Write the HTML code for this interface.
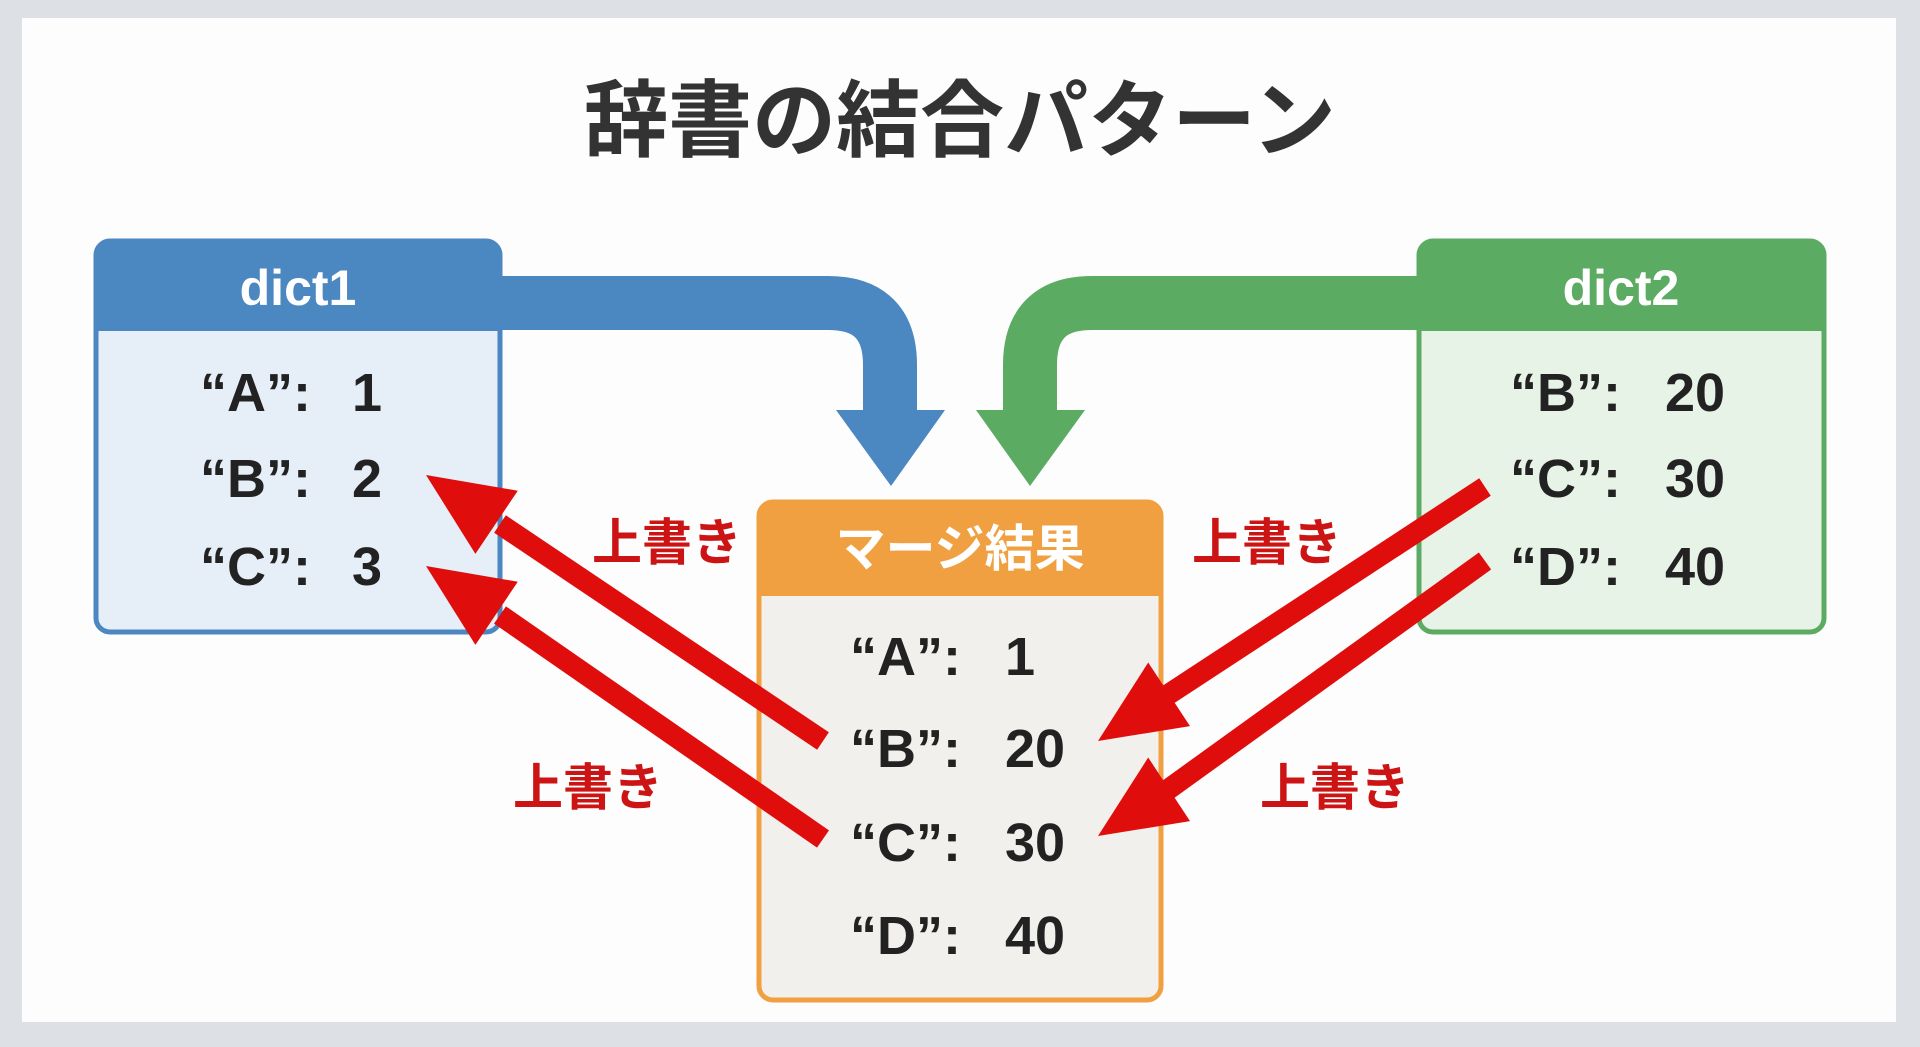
<!DOCTYPE html>
<html><head><meta charset="utf-8"><style>
html,body{margin:0;padding:0;background:#dde1e5;}
svg{display:block;}
text{font-family:"Liberation Sans","Noto Sans CJK JP",sans-serif;font-weight:bold;}
</style></head><body>
<svg width="1920" height="1047" viewBox="0 0 1920 1047" xmlns="http://www.w3.org/2000/svg">
<rect x="0" y="0" width="1920" height="1047" fill="#dde1e5"/>
<rect x="22" y="18" width="1874" height="1004" fill="#fdfdfd"/>
<text x="960" y="150" font-size="84" fill="#333" text-anchor="middle">辞書の結合パターン</text>

<!-- blue flow arrow -->
<path d="M 495 303 H 828 Q 890 303 890 365 V 420" fill="none" stroke="#4b87c0" stroke-width="54"/>
<polygon points="836,410 945,410 891,486" fill="#4b87c0"/>
<!-- green flow arrow -->
<path d="M 1425 303 H 1092 Q 1030 303 1030 365 V 420" fill="none" stroke="#5cab62" stroke-width="54"/>
<polygon points="976,410 1085,410 1030,486" fill="#5cab62"/>

<!-- dict1 -->
<rect x="96" y="241" width="404" height="391" rx="14" fill="#e6eef7" stroke="#4b87c0" stroke-width="5"/>
<path d="M 96 331 V 255 Q 96 241 110 241 H 486 Q 500 241 500 255 V 331 Z" fill="#4b87c0"/>
<text x="298" y="305" font-size="50" fill="#fff" text-anchor="middle">dict1</text>
<g font-size="54" fill="#222">
<text x="200" y="411">“A”:</text><text x="352" y="411">1</text>
<text x="200" y="497">“B”:</text><text x="352" y="497">2</text>
<text x="200" y="585">“C”:</text><text x="352" y="585">3</text>
</g>

<!-- dict2 -->
<rect x="1419" y="241" width="405" height="391" rx="14" fill="#e8f3e8" stroke="#5cab62" stroke-width="5"/>
<path d="M 1419 331 V 255 Q 1419 241 1433 241 H 1810 Q 1824 241 1824 255 V 331 Z" fill="#5cab62"/>
<text x="1621" y="305" font-size="50" fill="#fff" text-anchor="middle">dict2</text>
<g font-size="54" fill="#222">
<text x="1510" y="411">“B”:</text><text x="1665" y="411">20</text>
<text x="1510" y="497">“C”:</text><text x="1665" y="497">30</text>
<text x="1510" y="585">“D”:</text><text x="1665" y="585">40</text>
</g>

<!-- merge -->
<rect x="759" y="502" width="402" height="498" rx="14" fill="#f2f0ec" stroke="#f0a040" stroke-width="5"/>
<path d="M 759 596 V 516 Q 759 502 773 502 H 1147 Q 1161 502 1161 516 V 596 Z" fill="#f0a040"/>
<text x="960" y="566" font-size="50" fill="#fff" text-anchor="middle">マージ結果</text>
<g font-size="54" fill="#222">
<text x="850" y="675">“A”:</text><text x="1005" y="675">1</text>
<text x="850" y="767">“B”:</text><text x="1005" y="767">20</text>
<text x="850" y="861">“C”:</text><text x="1005" y="861">30</text>
<text x="850" y="954">“D”:</text><text x="1005" y="954">40</text>
</g>

<!-- red overwrite arrows -->
<g stroke="#e00d0d" stroke-width="21" fill="none">
<line x1="823" y1="741" x2="500" y2="524"/>
<line x1="823" y1="839" x2="500" y2="615"/>
<line x1="1485" y1="487" x2="1166" y2="696"/>
<line x1="1485" y1="561" x2="1166" y2="791"/>
</g>
<g fill="#e00d0d">
<polygon points="426,475 517.8,490.7 475.4,553.9"/>
<polygon points="426,566 517.8,581.7 475.4,644.9"/>
<polygon points="1098,741 1190,726.1 1148.2,662.5"/>
<polygon points="1098,836 1190,821.1 1148.2,757.5"/>
</g>

<g font-size="50" fill="#cc1414" text-anchor="middle">
<text x="667" y="560">上書き</text>
<text x="588" y="805">上書き</text>
<text x="1267" y="560">上書き</text>
<text x="1335" y="805">上書き</text>
</g>
</svg>
</body></html>
